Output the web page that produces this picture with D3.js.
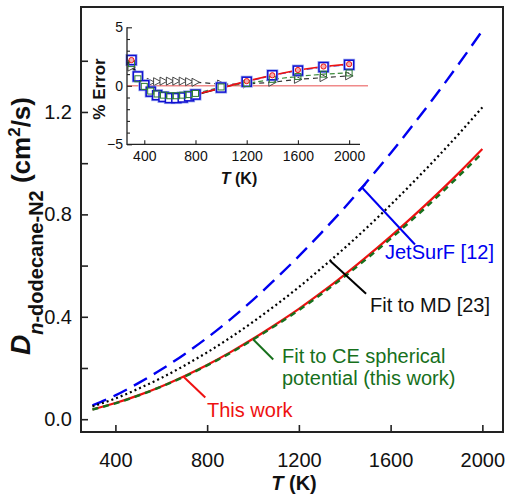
<!DOCTYPE html>
<html>
<head>
<meta charset="utf-8">
<script src="https://cdn.jsdelivr.net/npm/d3@7"></script>
<style>
  html, body { margin: 0; padding: 0; background: #fff; }
  svg { display: block; font-family: "Liberation Sans", Arial, sans-serif; }
</style>
</head>
<body>
<svg id="chart" width="505" height="496"></svg>
<script>
// Binary diffusion coefficient of n-dodecane in N2 (cm^2/s) versus temperature
const temps = [300, 400, 500, 600, 700, 800, 900, 1000, 1100, 1200, 1300, 1400, 1500, 1600, 1700, 1800, 1900, 2000];
const thisWork = [0.038, 0.063, 0.093, 0.128, 0.168, 0.212, 0.261, 0.314, 0.371, 0.431, 0.496, 0.565, 0.638, 0.714, 0.794, 0.877, 0.964, 1.055];
const ceFit    = [0.038, 0.062, 0.092, 0.127, 0.166, 0.210, 0.258, 0.311, 0.367, 0.426, 0.490, 0.558, 0.630, 0.705, 0.784, 0.866, 0.952, 1.040];
const mdFit    = [0.050, 0.081, 0.119, 0.161, 0.209, 0.261, 0.318, 0.380, 0.446, 0.516, 0.591, 0.669, 0.751, 0.837, 0.927, 1.020, 1.117, 1.218];
const jetSurf  = [0.054, 0.093, 0.141, 0.194, 0.253, 0.318, 0.389, 0.466, 0.549, 0.637, 0.730, 0.827, 0.931, 1.039, 1.152, 1.269, 1.391, 1.518];

const xTicks = [400, 800, 1200, 1600, 2000];
const yTicks = [0.0, 0.4, 0.8, 1.2];
const yMinorTicks = [0.2, 0.6, 1.0, 1.4];

// Inset: percent error of the fits
const errT       = [300, 350, 400, 450, 500, 550, 600, 650, 700, 750, 800, 1000, 1200, 1400, 1600, 1800, 2000];
const errSquare  = [2.2, 0.8, 0.05, -0.5, -0.8, -0.95, -1.05, -1.05, -1.0, -0.9, -0.75, -0.15, 0.35, 0.9, 1.3, 1.6, 1.8];
const errCE      = [1.9, 0.6, -0.05, -0.45, -0.7, -0.8, -0.85, -0.85, -0.8, -0.75, -0.65, -0.1, 0.2, 0.55, 0.8, 1.0, 1.1];
const errTri     = [1.6, 0.9, 0.3, 0.3, 0.35, 0.4, 0.4, 0.4, 0.4, 0.35, 0.3, 0.15, 0.15, 0.3, 0.55, 0.7, 0.85];
const errLowT    = [300, 350, 400, 450, 500, 550, 600, 650, 700, 750, 800, 1000];
const errLow     = [2.0, 0.7, -0.1, -0.6, -0.9, -1.05, -1.1, -1.1, -1.05, -0.95, -0.8, -0.2];
const errHighT   = [800, 1000, 1200, 1400, 1600, 1800, 2000];
const errHigh    = [-0.75, -0.2, 0.4, 0.9, 1.35, 1.65, 1.85];
const errCircT   = [300, 1200, 1400, 1600, 1800, 2000];
const errCirc    = [2.2, 0.4, 0.9, 1.35, 1.65, 1.85];
const insetXTicks = [400, 800, 1200, 1600, 2000];
const insetYTicks = [-5, 0, 5];
const insetYMinor = [-4, -3, -2, -1, 1, 2, 3, 4];

const BLUE = "#0000f0", RED = "#ee1111", GREEN = "#17701c", BLACK = "#000";
const svg = d3.select("#chart");

// ---------- main panel ----------
const x = d3.scaleLinear().domain([250, 2090]).range([81, 503]);
const y = d3.scaleLinear().domain([-0.05, 1.61]).range([432, 7]);

const line = (vals) => d3.line()
  .x((d, i) => x(temps[i])).y(d => y(d))
  .curve(d3.curveMonotoneX)(vals);

const curves = svg.append("g");
curves.append("path").attr("d", line(jetSurf)).attr("fill", "none")
  .attr("stroke", BLUE).attr("stroke-width", 2.4).attr("stroke-dasharray", "15,8");
curves.append("path").attr("d", line(mdFit)).attr("fill", "none")
  .attr("stroke", BLACK).attr("stroke-width", 2.2).attr("stroke-dasharray", "2,3");
curves.append("path").attr("d", line(thisWork)).attr("fill", "none")
  .attr("stroke", RED).attr("stroke-width", 2.2);
curves.append("path").attr("d", line(ceFit)).attr("fill", "none")
  .attr("stroke", GREEN).attr("stroke-width", 2.4).attr("stroke-dasharray", "6,5");

// axes
const xAxis = svg.append("g").attr("transform", "translate(0,432)")
  .call(d3.axisBottom(x).tickValues(xTicks).tickSize(-7).tickPadding(21).tickFormat(d3.format("d")));
const yAxis = svg.append("g").attr("transform", "translate(81,0)")
  .call(d3.axisLeft(y).tickValues(yTicks).tickSize(-7).tickPadding(9).tickFormat(d3.format(".1f")));
svg.append("g").attr("transform", "translate(81,0)")
  .call(d3.axisLeft(y).tickValues(yMinorTicks).tickSize(-7).tickFormat(""));
svg.selectAll(".domain").remove();
svg.selectAll(".tick line").attr("stroke", "#222").attr("stroke-width", 1.6);
[xAxis, yAxis].forEach(g => g.selectAll("text")
  .attr("font-size", 20).attr("fill", "#111").attr("font-family", "Liberation Sans, Arial, sans-serif"));

svg.append("rect").attr("x", x.range()[0]).attr("y", y.range()[1])
  .attr("width", x.range()[1] - x.range()[0]).attr("height", y.range()[0] - y.range()[1])
  .attr("fill", "none").attr("stroke", "#222").attr("stroke-width", 2);

// axis titles
const xt = svg.append("text").attr("x", 294).attr("y", 490).attr("text-anchor", "middle")
  .attr("font-size", 20).attr("font-weight", "bold").attr("fill", "#111");
xt.append("tspan").attr("font-style", "italic").text("T");
xt.append("tspan").text(" (K)");

const yt = svg.append("text").attr("transform", "translate(30,355) rotate(-90)")
  .attr("font-weight", "bold").attr("fill", "#111");
yt.append("tspan").attr("font-size", 28).attr("font-style", "italic").text("D");
yt.append("tspan").attr("font-size", 20).attr("font-style", "italic").attr("dy", 13).text("n");
yt.append("tspan").attr("font-size", 20).text("-dodecane-N2");
yt.append("tspan").attr("font-size", 26).attr("dy", -13).text(" (cm");
yt.append("tspan").attr("font-size", 17).attr("dy", -10).text("2");
yt.append("tspan").attr("font-size", 26).attr("dy", 10).text("/s)");

// leader lines and labels
const valueAt = (vals, t) => {
  const i = d3.bisectRight(temps, t) - 1;
  const f = (t - temps[i]) / (temps[i + 1] - temps[i]);
  return vals[i] + f * (vals[i + 1] - vals[i]);
};
function leader(vals, t, dx, dy, color, cap) {
  const px = x(t), py = y(valueAt(vals, t));
  svg.append("line").attr("x1", px).attr("y1", py).attr("x2", px + dx).attr("y2", py + dy)
    .attr("stroke", color).attr("stroke-width", 2);
  if (cap) {
    const len = Math.hypot(dx, dy), ux = dx / len, uy = dy / len;
    svg.append("line").attr("x1", px - uy * cap).attr("y1", py + ux * cap)
      .attr("x2", px + uy * cap).attr("y2", py - ux * cap)
      .attr("stroke", color).attr("stroke-width", 2);
  }
}
leader(jetSurf, 1475, 53, 57, BLUE, 5);
leader(mdFit, 1336, 36, 33, BLACK, 0);
leader(ceFit, 1001, 20, 20, GREEN, 0);
leader(thisWork, 696, 22, 21, RED, 0);

const label = (tx, ty, s, color) => svg.append("text").attr("x", tx).attr("y", ty)
  .attr("font-size", 20).attr("fill", color).text(s);
label(385, 259, "JetSurF [12]", BLUE);
label(370, 312, "Fit to MD [23]", "#111");
label(282, 363, "Fit to CE spherical", GREEN);
label(282, 385, "potential (this work)", GREEN);
label(207, 417, "This work", RED);

// ---------- inset ----------
const xi = d3.scaleLinear().domain([265, 2085]).range([127, 360]);
const yi = d3.scaleLinear().domain([-5, 5]).range([144.3, 27.3]);
const inset = svg.append("g");

inset.append("line").attr("x1", xi.range()[0]).attr("x2", 368)
  .attr("y1", yi(0)).attr("y2", yi(0)).attr("stroke", "#f08a8a").attr("stroke-width", 1.5);

const iline = (ts, vs) => d3.line().x((d, i) => xi(ts[i])).y(d => yi(d))(vs);

inset.append("path").attr("d", iline(errT, errTri)).attr("fill", "none")
  .attr("stroke", "#333").attr("stroke-width", 1.2).attr("stroke-dasharray", "5,4");
inset.append("path").attr("d", iline(errT, errCE)).attr("fill", "none")
  .attr("stroke", "#3a8a3a").attr("stroke-width", 1.2).attr("stroke-dasharray", "5,3");
inset.append("path").attr("d", iline(errT, errSquare)).attr("fill", "none")
  .attr("stroke", "#4a5ad8").attr("stroke-width", 1.4).attr("stroke-dasharray", "6,3");
inset.append("path").attr("d", iline(errLowT, errLow)).attr("fill", "none")
  .attr("stroke", "#111").attr("stroke-width", 1.3);
inset.append("path").attr("d", iline(errHighT, errHigh)).attr("fill", "none")
  .attr("stroke", RED).attr("stroke-width", 1.6);

// triangle markers
inset.selectAll(".tri").data(errTri).join("path")
  .attr("transform", (d, i) => `translate(${xi(errT[i])},${yi(d)})`)
  .attr("d", "M-3.5,-4L4,0L-3.5,4Z").attr("fill", "#fff").attr("stroke", "#333").attr("stroke-width", 0.9);
// square markers with halo
inset.selectAll(".sqh").data(errSquare).join("rect")
  .attr("x", (d, i) => xi(errT[i]) - 4.5).attr("y", d => yi(d) - 4.5)
  .attr("width", 9).attr("height", 9).attr("fill", "none")
  .attr("stroke", "#9aa8f0").attr("stroke-width", 3);
inset.selectAll(".sq").data(errSquare).join("rect")
  .attr("x", (d, i) => xi(errT[i]) - 4.5).attr("y", d => yi(d) - 4.5)
  .attr("width", 9).attr("height", 9).attr("fill", "#fff")
  .attr("stroke", "#1010d0").attr("stroke-width", 1.5);
inset.selectAll(".sqg").data(errCE).join("rect")
  .attr("x", (d, i) => xi(errT[i]) - 3).attr("y", d => yi(d) - 3)
  .attr("width", 6).attr("height", 6).attr("fill", "none")
  .attr("stroke", "#2e7d32").attr("stroke-width", 1);
inset.selectAll(".circ").data(errCirc).join("circle")
  .attr("cx", (d, i) => xi(errCircT[i])).attr("cy", d => yi(d)).attr("r", 2.6)
  .attr("fill", "#f4b0b0").attr("stroke", RED).attr("stroke-width", 1);

// inset axes
const ixAxis = inset.append("g").attr("transform", `translate(0,${yi.range()[0]})`)
  .call(d3.axisBottom(xi).tickValues(insetXTicks).tickSize(-4).tickPadding(7).tickFormat(d3.format("d")));
const iyAxis = inset.append("g").attr("transform", `translate(${xi.range()[0]},0)`)
  .call(d3.axisLeft(yi).tickValues(insetYTicks).tickSize(-5).tickPadding(4).tickFormat(d3.format("d")));
inset.append("g").attr("transform", `translate(${xi.range()[0]},0)`)
  .call(d3.axisLeft(yi).tickValues(insetYMinor).tickSize(-3).tickFormat(""));
inset.selectAll(".domain").remove();
inset.selectAll(".tick line").attr("stroke", "#222").attr("stroke-width", 1.1);
[ixAxis, iyAxis].forEach(g => g.selectAll("text")
  .attr("font-size", 14).attr("fill", "#111").attr("font-family", "Liberation Sans, Arial, sans-serif"));
inset.append("path")
  .attr("d", `M${xi.range()[0]},${yi.range()[1]}V${yi.range()[0]}H${xi.range()[1]}`)
  .attr("fill", "none").attr("stroke", "#222").attr("stroke-width", 1.3);

const ixt = inset.append("text").attr("x", 239).attr("y", 184).attr("text-anchor", "middle")
  .attr("font-size", 16).attr("font-weight", "bold").attr("fill", "#111");
ixt.append("tspan").attr("font-style", "italic").text("T");
ixt.append("tspan").text(" (K)");
inset.append("text").attr("transform", "translate(105,89) rotate(-90)").attr("text-anchor", "middle")
  .attr("font-size", 17).attr("font-weight", "bold").attr("fill", "#111").text("% Error");
</script>
</body>
</html>
